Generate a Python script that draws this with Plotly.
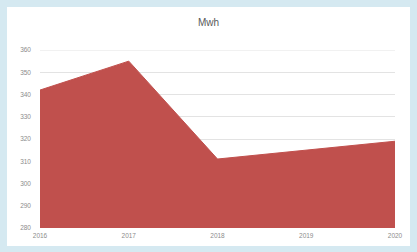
import plotly.graph_objects as go

years = [2016, 2017, 2018, 2019, 2020]
mwh = [342, 355, 311, 315, 319]
y_ticks = [280, 290, 300, 310, 320, 330, 340, 350, 360]

W, H = 417, 252
L, R, T, B = 40, 22, 50, 24
pw, ph = W - L - R, H - T - B

def px_x(p):
    return (p - L) / pw

def px_y(p):
    return 1 - (p - T) / ph

fig = go.Figure()
fig.add_trace(go.Scatter(
    x=years, y=mwh, mode="lines", fill="tozeroy",
    line=dict(color="#c0504d", width=1),
    fillcolor="#c0504d", hoverinfo="skip", showlegend=False,
))

fig.update_layout(
    width=W, height=H,
    margin=dict(l=L, r=R, t=T, b=B),
    paper_bgcolor="#d5e9f1",
    plot_bgcolor="rgba(0,0,0,0)",
    title=dict(text="Mwh", x=0.5, xanchor="center", y=1 - 22 / H, yanchor="middle",
               font=dict(family="Liberation Sans", size=10, color="#595959")),
    xaxis=dict(range=[2016, 2020], tickvals=years, ticktext=[str(y) for y in years],
               showgrid=False, zeroline=False, showline=False, ticklabelstandoff=2,
               tickfont=dict(family="Liberation Sans", size=6.5, color="#8c8c8c"), ticks=""),
    yaxis=dict(range=[280, 360], tickvals=y_ticks, showgrid=True, gridcolor="#e3e3e3",
               gridwidth=1, zeroline=False, showline=False, ticks="", ticklabelstandoff=8,
               tickfont=dict(family="Liberation Sans", size=6.5, color="#8c8c8c")),
    shapes=[
        dict(type="rect", xref="paper", yref="paper", layer="below",
             x0=px_x(7), x1=px_x(410), y0=px_y(246), y1=px_y(7),
             fillcolor="white", line=dict(width=0)),
        dict(type="line", xref="paper", yref="y", layer="below",
             x0=0, x1=1, y0=y_ticks[-1], y1=y_ticks[-1],
             line=dict(color="#e3e3e3", width=1)),
    ],
)

fig.write_html("out.html",
               config={"displayModeBar": False, "staticPlot": True},
               post_script="document.body.style.margin='0';document.body.style.overflow='hidden';")
